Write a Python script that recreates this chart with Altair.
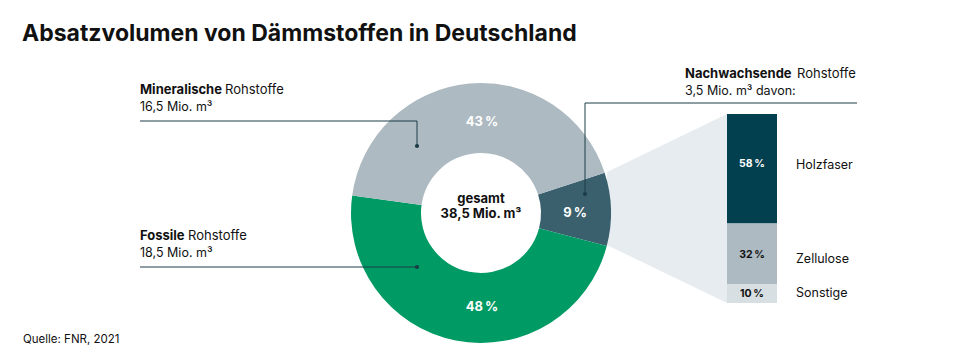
import math
import altair as alt
import pandas as pd

# ---------------- data ----------------
categories = ["Nachwachsende", "Fossile", "Mineralische"]
volumes = [3.5, 18.5, 16.5]            # Mio. m³
volume_labels = ["3,5 Mio. m³ davon:", "18,5 Mio. m³", "16,5 Mio. m³"]
share_labels = ["9\u202f%", "48\u202f%", "43\u202f%"]
total_labels = ["gesamt", "38,5 Mio. m³"]

sub_categories = ["Holzfaser", "Zellulose", "Sonstige"]
sub_shares = [58, 32, 10]
sub_labels = ["58\u202f%", "32\u202f%", "10\u202f%"]

title_text = "Absatzvolumen von Dämmstoffen in Deutschland"
source_text = "Quelle: FNR, 2021"

# ---------------- style / layout ----------------
C_NAW, C_FOS, C_MIN = "#3a606e", "#009a64", "#adbac1"
C_HOLZ, C_ZELL, C_SONST = "#02404f", "#adbac1", "#d8dfe3"
C_FAN = "#e6ecef"
C_LINE = "#1c3c48"
C_TEXT = "#111111"
FONT = "Inter"
OFF = 8
W, H = 959, 344
CX, CY = 481, 213          # donut centre (page px)
R_OUT, R_IN = 130, 60
START = math.radians(72)


def p(v):
    return v - OFF


# donut
df_d = pd.DataFrame({"cat": categories, "vol": volumes, "ord": [0, 1, 2]})
donut = alt.Chart(df_d).mark_arc(outerRadius=R_OUT, innerRadius=R_IN).encode(
    theta=alt.Theta("vol:Q", stack=True,
                    scale=alt.Scale(range=[START, START + 2 * math.pi])),
    order=alt.Order("ord:Q"),
    color=alt.Color("cat:N", scale=alt.Scale(domain=categories,
                                             range=[C_NAW, C_FOS, C_MIN]),
                    legend=None),
    x=alt.value(p(CX)), y=alt.value(p(CY)),
)

# connecting fan (decorative)
df_fan = pd.DataFrame({"x": [p(607), p(727)], "y": [p(172), p(114)],
                       "y2": [p(245), p(303)]})
fan = alt.Chart(df_fan).mark_area(color=C_FAN, opacity=1).encode(
    x=alt.X("x:Q", scale=None, axis=None),
    y=alt.Y("y:Q", scale=None, axis=None, stack=None),
    y2="y2:Q",
)

# stacked bar
df_s = pd.DataFrame({"cat": sub_categories, "share": sub_shares, "ord": [2, 1, 0]})
bar = alt.Chart(df_s).transform_stack(
    stack="share", as_=["y0", "y1"], groupby=[],
    sort=[alt.SortField("ord", order="ascending")],
).mark_rect().encode(
    x=alt.value(p(727)), x2=alt.value(p(777)),
    y=alt.Y("y0:Q", scale=alt.Scale(domain=[0, 100], range=[p(303), p(114)]),
            axis=None),
    y2="y1:Q",
    color=alt.Color("cat:N", scale=alt.Scale(domain=sub_categories,
                                             range=[C_HOLZ, C_ZELL, C_SONST]),
                    legend=None),
)

# leader lines
segs = [(140, 121, 417, 121), (417, 121, 417, 146),
        (140, 267, 417, 267),
        (585, 103, 857, 103), (585, 103, 585, 194)]
df_r = pd.DataFrame([(p(a), p(b), p(c), p(d)) for a, b, c, d in segs],
                    columns=["x", "y", "x2", "y2"])
rules = alt.Chart(df_r).mark_rule(color=C_LINE, strokeWidth=1).encode(
    x=alt.X("x:Q", scale=None, axis=None), y=alt.Y("y:Q", scale=None, axis=None),
    x2="x2:Q", y2="y2:Q",
)
df_dot = pd.DataFrame({"x": [p(417), p(417), p(585)], "y": [p(146), p(267), p(194)]})
dots = alt.Chart(df_dot).mark_circle(color=C_LINE, size=18, opacity=1).encode(
    x=alt.X("x:Q", scale=None, axis=None), y=alt.Y("y:Q", scale=None, axis=None),
)


def text_layer(rows, **mk):
    df = pd.DataFrame(rows, columns=["t", "x", "y"])
    df["x"] = df["x"] - OFF
    df["y"] = df["y"] - OFF
    return alt.Chart(df).mark_text(font=FONT, baseline="alphabetic", **mk).encode(
        x=alt.X("x:Q", scale=None, axis=None),
        y=alt.Y("y:Q", scale=None, axis=None),
        text="t:N",
    )


title = text_layer([(title_text, 22, 41)], align="left", fontSize=23,
                   fontWeight="bold", color=C_TEXT)
source = text_layer([(source_text, 23, 342.5)], align="left", fontSize=11.5,
                    color=C_TEXT)

bold_heads = text_layer([(categories[2], 140, 93.5), (categories[1], 140, 239.5),
                         (categories[0], 685, 77.5)],
                        align="left", fontSize=13, fontWeight="bold", color=C_TEXT)
reg_heads = text_layer([("Rohstoffe", 225, 93.5), ("Rohstoffe", 188, 239.5),
                        ("Rohstoffe", 797, 77.5)],
                       align="left", fontSize=13, color=C_TEXT)
vol_lines = text_layer([(volume_labels[2], 140, 110.5), (volume_labels[1], 140, 256.5),
                        (volume_labels[0], 685, 95)],
                       align="left", fontSize=12.5, color=C_TEXT)

centre = text_layer([(total_labels[0], CX, 203), (total_labels[1], CX, 218.3)],
                    align="center", fontSize=13, fontWeight="bold", color=C_TEXT)

pct_white = text_layer([(share_labels[2], 482, 126), (share_labels[1], 482, 310.7),
                        (share_labels[0], 575, 216.7)],
                       align="center", fontSize=13, fontWeight="bold", color="white")

sub_white = text_layer([(sub_labels[0], 752, 166.7)], align="center", fontSize=10.5,
                       fontWeight="bold", color="white")
sub_dark = text_layer([(sub_labels[1], 752, 257.7), (sub_labels[2], 752, 296.7)],
                      align="center", fontSize=10.5, fontWeight="bold", color=C_TEXT)
sub_names = text_layer([(sub_categories[0], 796, 169), (sub_categories[1], 796, 262.7),
                        (sub_categories[2], 796, 297.3)],
                       align="left", fontSize=12.5, color=C_TEXT)

chart = alt.layer(
    fan, donut, bar, rules, dots,
    title, source, bold_heads, reg_heads, vol_lines, centre, pct_white,
    sub_white, sub_dark, sub_names,
).resolve_scale(
    x="independent", y="independent", color="independent",
).properties(
    width=W, height=H, padding=0,
    autosize=alt.AutoSizeParams(type="none"),
    background="white",
).configure_view(stroke=None)

chart.save("out.html", embed_options={"renderer": "svg", "actions": False})
